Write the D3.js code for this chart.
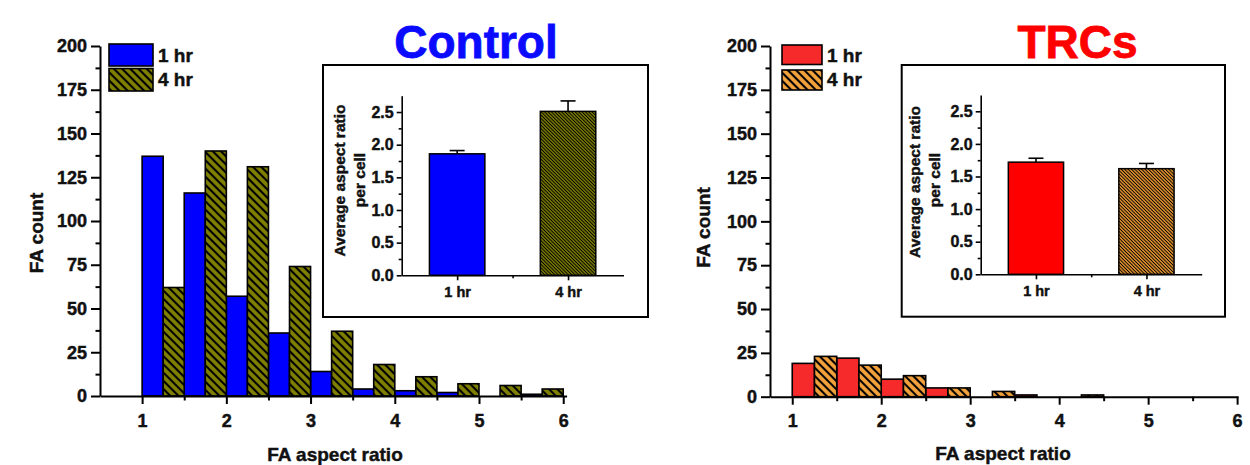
<!DOCTYPE html>
<html><head><meta charset="utf-8">
<script src="https://cdn.jsdelivr.net/npm/d3@7"></script>
<style>
body{margin:0;background:#fff;}
svg{display:block;}
text{font-family:"Liberation Sans",Arial,sans-serif;font-weight:bold;fill:#111;stroke:#111;stroke-width:0.45px;}
</style>
</head><body><svg id="c" width="1250" height="465"></svg>
<script>
// ---------- data ----------
const binStarts = [1, 1.5, 2, 2.5, 3, 3.5, 4, 4.5, 5, 5.5];
const control1h = [137, 116, 57, 36, 14, 4, 3, 2, 0, 1];
const control4h = [62, 140, 131, 74, 37, 18, 11, 7, 6, 4];
const trc1h = [19, 22, 10, 5, 0, 1, 0, 0, 0, 0];
const trc4h = [23, 18, 12, 5, 3, 0, 1, 0, 0, 0];
const seriesLabels = ["1 hr", "4 hr"];
const yTicks = [0, 25, 50, 75, 100, 125, 150, 175, 200];
const xTicks = [1, 2, 3, 4, 5, 6];
const insetCats = ["1 hr", "4 hr"];
const controlMean = [1.86, 2.51];
const controlErr = [0.05, 0.16];
const trcMean = [1.72, 1.62];
const trcErr = [0.06, 0.08];
const insetTicks = [0, 0.5, 1.0, 1.5, 2.0, 2.5];
const titles = ["Control", "TRCs"];
const xTitle = "FA aspect ratio";
const yTitle = "FA count";
const insetTitle1 = "Average aspect ratio";
const insetTitle2 = "per cell";

const svg = d3.select("#c");
const defs = svg.append("defs");

function hatch(id, color, w, sw) {
  const p = defs.append("pattern").attr("id", id).attr("patternUnits", "userSpaceOnUse")
    .attr("width", w).attr("height", w).attr("patternTransform", "rotate(-45)");
  p.append("rect").attr("width", w).attr("height", w).attr("fill", color);
  p.append("line").attr("x1", w / 2).attr("x2", w / 2).attr("y1", -1).attr("y2", w + 1)
    .attr("stroke", "#000").attr("stroke-width", sw);
}
hatch("hOlive", "#808000", 5.8, 2.1);
hatch("hOrange", "#f4a33c", 5.8, 2.1);
hatch("hOliveF", "#808000", 2.4, 1);
hatch("hOrangeF", "#f09a30", 2.4, 1);

const panels = [
  { title: titles[0], titleColor: "#0a0aff", titleX: 476, d1: control1h, d4: control4h,
    c1: "#0000fe", c4: "url(#hOlive)", ci1: "#0000fe", ci4: "url(#hOliveF)",
    xDom: [0.5, 6.04], xRange: [100, 566.6], yRange: [396, 46],
    ylab: [42.5, 233], xlab: [335, 460.5],
    legend: { x: 109, w: 44, y1: 44, h1: 22, y2: 68.5, h2: 22.5, tx: 158 },
    inset: { box: [323, 65, 648, 317], xr: [401.7, 623.5], yr: [275.3, 95.7],
             t1: [344.5, 180.5], t2: [365, 180], mean: controlMean, err: controlErr } },
  { title: titles[1], titleColor: "#ff0000", titleX: 1077.5, d1: trc1h, d4: trc4h,
    c1: "#f62a2a", c4: "url(#hOrange)", ci1: "#ff0000", ci4: "url(#hOrangeF)",
    xDom: [0.75, 6.01], xRange: [770, 1238], yRange: [396.7, 46],
    ylab: [710, 227.5], xlab: [1003, 460],
    legend: { x: 782, w: 40, y1: 45, h1: 19.5, y2: 70, h2: 20, tx: 827 },
    inset: { box: [901.7, 65, 1225, 316.7], xr: [980.7, 1201.7], yr: [274.3, 95],
             t1: [920, 182], t2: [939.5, 180], mean: trcMean, err: trcErr } }
];

function styleAxis(g, sw, fs) {
  g.attr("font-family", null).attr("font-size", null);
  g.selectAll("path,line").attr("stroke", "#000").attr("stroke-width", sw);
  g.selectAll("text").style("font-size", fs + "px").attr("fill", "#111");
}

panels.forEach(P => {
  const g = svg.append("g");
  const x = d3.scaleLinear().domain(P.xDom).range(P.xRange);
  const y = d3.scaleLinear().domain([0, 200]).range(P.yRange);

  // bars
  const rows = binStarts.map((b, i) => ({ b, v1: P.d1[i], v4: P.d4[i] }));
  g.selectAll(".b1").data(rows.filter(r => r.v1 > 0)).join("rect")
    .attr("x", r => x(r.b)).attr("width", r => x(r.b + 0.25) - x(r.b))
    .attr("y", r => y(r.v1)).attr("height", r => y(0) - y(r.v1))
    .attr("fill", P.c1).attr("stroke", "#000").attr("stroke-width", 1.6);
  g.selectAll(".b4").data(rows.filter(r => r.v4 > 0)).join("rect")
    .attr("x", r => x(r.b + 0.25)).attr("width", r => x(r.b + 0.5) - x(r.b + 0.25))
    .attr("y", r => y(r.v4)).attr("height", r => y(0) - y(r.v4))
    .attr("fill", P.c4).attr("stroke", "#000").attr("stroke-width", 1.6);

  // axes
  const x0 = P.xRange[0], y0 = P.yRange[0];
  const minorX = d3.range(1.5, 6, 1);
  const minorY = d3.range(12.5, 200, 25);
  g.append("g").attr("transform", `translate(0,${y0})`)
    .call(d3.axisBottom(x).tickValues(minorX).tickSize(4.5).tickFormat("").tickSizeOuter(0))
    .call(a => { a.select(".domain").remove(); styleAxis(a, 2, 18); });
  g.append("g").attr("transform", `translate(${x0},0)`)
    .call(d3.axisLeft(y).tickValues(minorY).tickSize(4.5).tickFormat("").tickSizeOuter(0))
    .call(a => { a.select(".domain").remove(); styleAxis(a, 2, 18); });
  g.append("g").attr("transform", `translate(0,${y0})`)
    .call(d3.axisBottom(x).tickValues(xTicks).tickSize(8).tickPadding(10).tickFormat(d3.format("d")).tickSizeOuter(0))
    .call(a => styleAxis(a, 2, 18));
  g.append("g").attr("transform", `translate(${x0},0)`)
    .call(d3.axisLeft(y).tickValues(yTicks).tickSize(9).tickPadding(4).tickSizeOuter(0))
    .call(a => styleAxis(a, 2, 18));

  // axis titles
  g.append("text").attr("x", P.xlab[0]).attr("y", P.xlab[1]).attr("text-anchor", "middle")
    .style("font-size", "19px").text(xTitle);
  g.append("text").attr("transform", `translate(${P.ylab[0]},${P.ylab[1]}) rotate(-90)`)
    .attr("text-anchor", "middle").style("font-size", "19px").text(yTitle);

  // legend
  const L = P.legend;
  g.append("rect").attr("x", L.x).attr("y", L.y1).attr("width", L.w).attr("height", L.h1)
    .attr("fill", P.c1).attr("stroke", "#000").attr("stroke-width", 1.6);
  g.append("rect").attr("x", L.x).attr("y", L.y2).attr("width", L.w).attr("height", L.h2)
    .attr("fill", P.c4).attr("stroke", "#000").attr("stroke-width", 1.6);
  g.append("text").attr("x", L.tx).attr("y", 62).style("font-size", "19px").text(seriesLabels[0]);
  g.append("text").attr("x", L.tx).attr("y", 86).style("font-size", "19px").text(seriesLabels[1]);

  // title
  g.append("text").attr("x", P.titleX).attr("y", 57.5).attr("text-anchor", "middle")
    .style("font-size", "46px").style("fill", P.titleColor).style("stroke", P.titleColor)
    .style("stroke-width", "0.8px").text(P.title);

  // inset
  const I = P.inset;
  const ig = g.append("g");
  ig.append("rect").attr("x", I.box[0]).attr("y", I.box[1])
    .attr("width", I.box[2] - I.box[0]).attr("height", I.box[3] - I.box[1])
    .attr("fill", "#fff").attr("stroke", "#000").attr("stroke-width", 2);
  const ix = d3.scaleLinear().domain([0.5, 2.5]).range(I.xr);
  const iy = d3.scaleLinear().domain([0, 2.75]).range(I.yr);
  const bw = ix(1.25) - ix(1);
  const fills = [P.ci1, P.ci4];
  const idata = insetCats.map((c, i) => ({ c, i, m: I.mean[i], e: I.err[i] }));
  // error bars (upper only)
  ig.selectAll(".ev").data(idata).join("line")
    .attr("x1", d => ix(d.i + 1)).attr("x2", d => ix(d.i + 1))
    .attr("y1", d => iy(d.m)).attr("y2", d => iy(d.m + d.e))
    .attr("stroke", "#000").attr("stroke-width", 1.6);
  ig.selectAll(".ec").data(idata).join("line")
    .attr("x1", d => ix(d.i + 1) - 7.5).attr("x2", d => ix(d.i + 1) + 7.5)
    .attr("y1", d => iy(d.m + d.e)).attr("y2", d => iy(d.m + d.e))
    .attr("stroke", "#000").attr("stroke-width", 1.6);
  ig.selectAll(".ib").data(idata).join("rect")
    .attr("x", d => ix(d.i + 1) - bw).attr("width", 2 * bw)
    .attr("y", d => iy(d.m)).attr("height", d => iy(0) - iy(d.m))
    .attr("fill", d => fills[d.i]).attr("stroke", "#000").attr("stroke-width", 1.5);
  const ix0 = I.xr[0], iy0 = I.yr[0];
  ig.append("g").attr("transform", `translate(0,${iy0})`)
    .call(d3.axisBottom(ix).tickValues([1.5]).tickSize(3).tickFormat("").tickSizeOuter(0))
    .call(a => { a.select(".domain").remove(); styleAxis(a, 1.6, 14); });
  ig.append("g").attr("transform", `translate(${ix0},0)`)
    .call(d3.axisLeft(iy).tickValues(d3.range(0.25, 2.75, 0.5)).tickSize(3).tickFormat("").tickSizeOuter(0))
    .call(a => { a.select(".domain").remove(); styleAxis(a, 1.6, 14); });
  ig.append("g").attr("transform", `translate(0,${iy0})`)
    .call(d3.axisBottom(ix).tickValues([1, 2]).tickSize(5).tickPadding(6)
      .tickFormat((d, i) => insetCats[i]).tickSizeOuter(0))
    .call(a => styleAxis(a, 1.6, 14.5));
  ig.append("g").attr("transform", `translate(${ix0},0)`)
    .call(d3.axisLeft(iy).tickValues(insetTicks).tickSize(5).tickPadding(3)
      .tickFormat(d3.format(".1f")).tickSizeOuter(0))
    .call(a => styleAxis(a, 1.6, 16));
  ig.append("text").attr("transform", `translate(${I.t1[0]},${I.t1[1]}) rotate(-90)`)
    .attr("text-anchor", "middle").style("font-size", "15.5px").text(insetTitle1);
  ig.append("text").attr("transform", `translate(${I.t2[0]},${I.t2[1]}) rotate(-90)`)
    .attr("text-anchor", "middle").style("font-size", "15.5px").text(insetTitle2);
});
</script>
</body></html>
